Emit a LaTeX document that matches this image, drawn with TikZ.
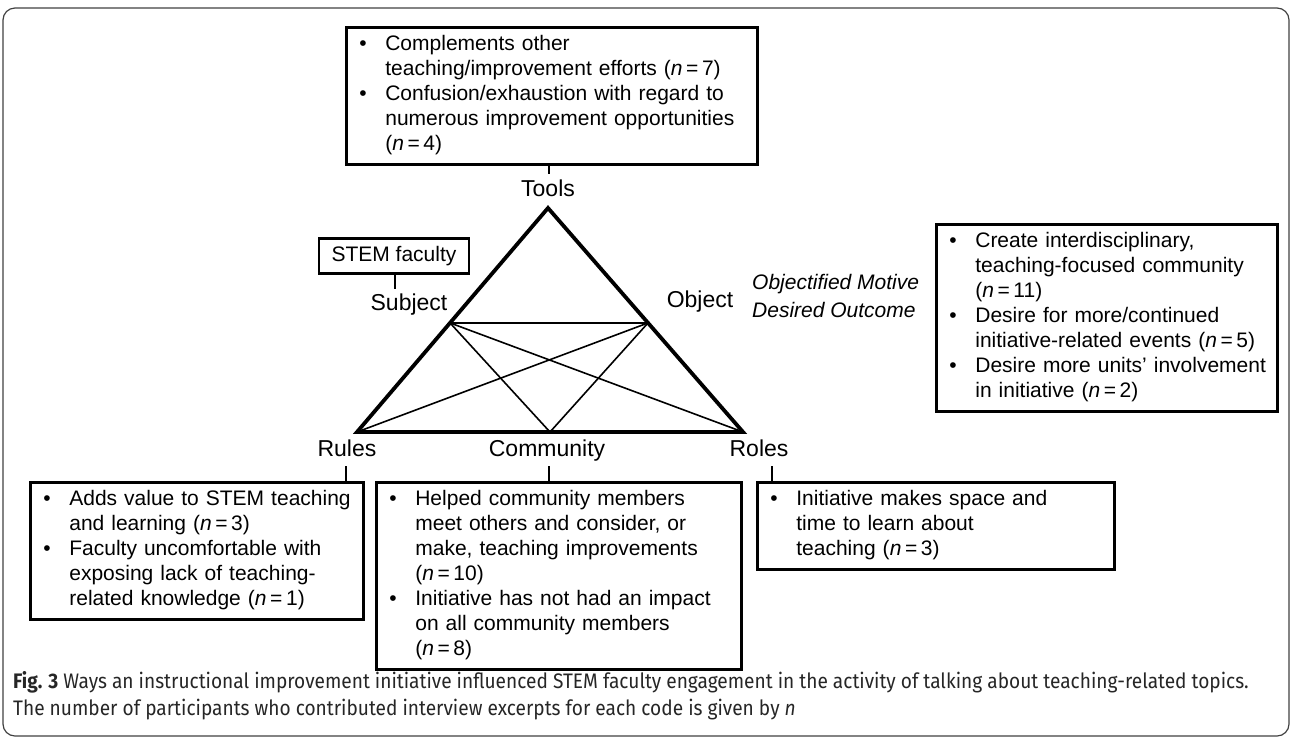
\documentclass[tikz,border=0pt]{standalone}
\usepackage{fontspec}
\setmainfont{Liberation Sans}
\newfontfamily\capfont[FakeStretch=0.91]{Fira Sans}
\usepackage{array}
\usetikzlibrary{calc}
\newcommand{\bul}{\textbullet}
\newcommand{\nq}[1]{(\textit{n}\hspace{3.6pt}=\hspace{3.6pt}#1)}
\tikzset{
  box/.style={draw, line width=2.7pt, anchor=north west, inner xsep=13pt, inner ysep=6pt,
    align=left, font=\fontsize{21}{25}\selectfont},
  lbl/.style={font=\fontsize{23}{27}\selectfont, inner sep=3pt, anchor=base},
  tri/.style={line width=3.8pt, line join=miter},
  innerl/.style={line width=1.6pt},
  conn/.style={line width=2.7pt},
  frame/.style={draw=black!75, line width=1.2pt, rounded corners=12pt},
}
\begin{document}
\begin{tikzpicture}[x=1pt,y=-1pt]
\useasboundingbox (0,0) rectangle (1292,740);
\draw[frame] (3,8) rectangle (1289,736);

% triangle vertices
\coordinate (apex) at (548,208);
\coordinate (bl) at (357,432);
\coordinate (br) at (743,432);
\coordinate (subj) at ($(apex)!0.513!(bl)$);
\coordinate (obj) at ($(apex)!0.513!(br)$);
\coordinate (comm) at ($(bl)!0.5!(br)$);

\draw[innerl] (subj) -- (obj);
\draw[innerl] (subj) -- (comm);
\draw[innerl] (subj) -- (br);
\draw[innerl] (obj) -- (bl);
\draw[innerl] (obj) -- (comm);
\draw[tri] (apex) -- (bl) -- (br) -- cycle;

% labels
\node[lbl] (tools) at (548,196) {Tools};
\node[lbl] (subject) at (409,310) {Subject};
\node[lbl] (object) at (700,307) {Object};
\node[lbl] (rules) at (347,456) {Rules};
\node[lbl] (community) at (547,456) {Community};
\node[lbl] (roles) at (759,456) {Roles};
\node[anchor=north west, inner sep=0pt, align=left, font=\fontsize{21}{28}\selectfont\itshape] (motive) at (752,274)
  {Objectified Motive\\Desired Outcome};

% boxes
\node[box, text width=385pt] (topbox) at (345,26) {%
\begin{tabular}{@{}p{26pt}@{}l@{}}
\bul & Complements other\\
 & teaching/improvement efforts \nq{7}\\
\bul & Confusion/exhaustion with regard to\\
 & numerous improvement opportunities\\
 & \nq{4}
\end{tabular}};

\node[draw, line width=2.7pt, minimum width=150pt, minimum height=35pt, inner sep=0pt,
  font=\fontsize{21}{25}\selectfont] (stem) at (394,256) {STEM faculty};

\node[box, text width=315pt] (rightbox) at (935,223) {%
\begin{tabular}{@{}p{26pt}@{}l@{}}
\bul & Create interdisciplinary,\\
 & teaching-focused community\\
 & \nq{11}\\
\bul & Desire for more/continued\\
 & initiative-related events \nq{5}\\
\bul & Desire more units’ involvement\\
 & in initiative \nq{2}
\end{tabular}};

\node[box, text width=307pt] (rulesbox) at (29,481) {%
\begin{tabular}{@{}p{26pt}@{}l@{}}
\bul & Adds value to STEM teaching\\
 & and learning \nq{3}\\
\bul & Faculty uncomfortable with\\
 & exposing lack of teaching-\\
 & related knowledge \nq{1}
\end{tabular}};

\node[box, text width=339pt] (commbox) at (375,481) {%
\begin{tabular}{@{}p{26pt}@{}l@{}}
\bul & Helped community members\\
 & meet others and consider, or\\
 & make, teaching improvements\\
 & \nq{10}\\
\bul & Initiative has not had an impact\\
 & on all community members\\
 & \nq{8}
\end{tabular}};

\node[box, text width=331pt] (rolesbox) at (756,481) {%
\begin{tabular}{@{}p{26pt}@{}l@{}}
\bul & Initiative makes space and\\
 & time to learn about\\
 & teaching \nq{3}
\end{tabular}};

% connectors
\coordinate (toolsc) at (549,174);
\draw[conn] (topbox.south -| toolsc) -- (toolsc);
\coordinate (subjc) at (395,289);
\draw[conn] (stem.south -| subjc) -- (subjc);
\coordinate (rulesc) at (346,466);
\draw[conn] (rulesc) -- (rulesc |- rulesbox.north);
\coordinate (commc) at (549,466);
\draw[conn] (commc) -- (commc |- commbox.north);
\coordinate (rolesc) at (772,466);
\draw[conn] (rolesc) -- (rolesc |- rolesbox.north);

% caption
\node[anchor=north west, inner sep=0pt, align=left, text=black!85,
  font=\capfont\fontsize{21}{27}\selectfont] (caption) at (13,671)
  {\textbf{Fig. 3} Ways an instructional improvement initiative influenced STEM faculty engagement in the activity of talking about teaching-related topics.\\
  The number of participants who contributed interview excerpts for each code is given by \textit{n}};
\end{tikzpicture}
\end{document}
